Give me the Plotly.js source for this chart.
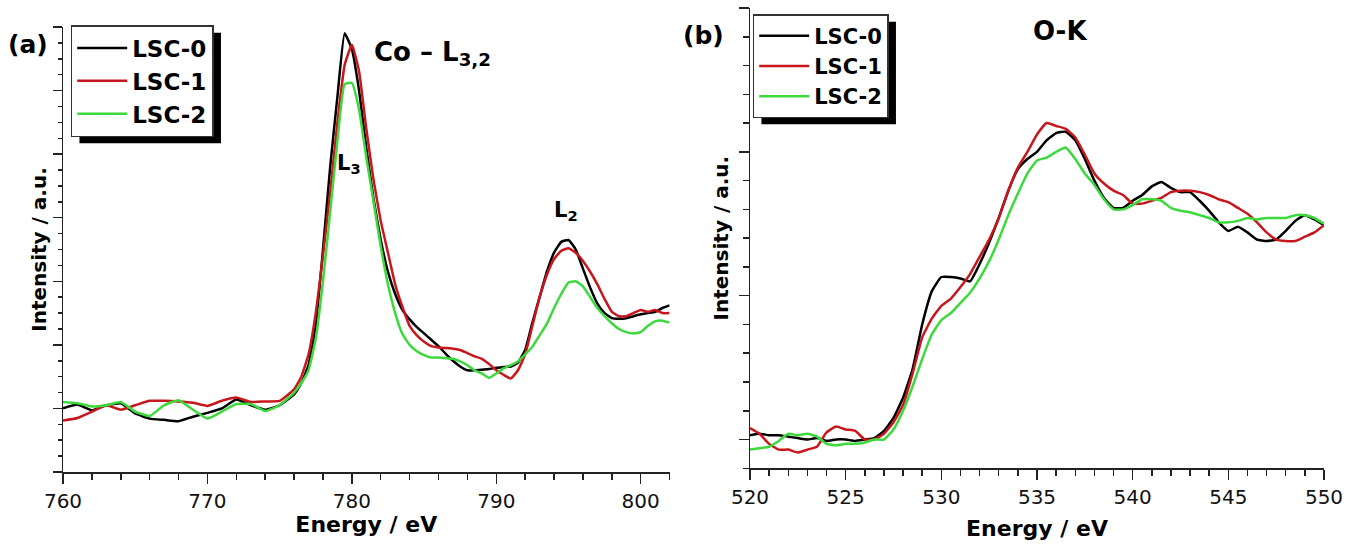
<!DOCTYPE html>
<html><head><meta charset="utf-8">
<script src="https://cdn.plot.ly/plotly-3.0.1.min.js"></script>
<style>html,body{margin:0;padding:0;background:#fff}#chart{width:1356px;height:550px}</style>
</head><body><div id="chart"></div>
<script>
const seriesNames = ['LSC-0', 'LSC-1', 'LSC-2'];
const seriesColors = ['#000000', '#c8161d', '#3cd93c'];

// Panel (a): Co L3,2 edge
const coEnergy = [760,761,762,763,764,765,766,767,768,769,770,771,772,773,774,775,776,
  776.5,777,777.5,778,778.5,779,779.5,780,780.5,781,781.5,782,782.5,783,783.5,784,784.5,785,785.5,786,
  786.5,787,787.5,788,788.5,789,789.5,790,790.5,791,791.5,792,792.5,793,793.5,794,794.5,795,795.5,796,
  796.5,797,797.5,798,798.5,799,799.5,800,800.5,801,801.5,802];
const coLSC0 = [0.0,0.06,-0.03,0.05,0.08,-0.08,-0.16,-0.18,-0.2,-0.13,-0.07,0.0,0.14,0.05,-0.02,0.05,0.22,
  0.4,0.68,1.3,2.5,3.8,4.9,5.9,5.65,5.0,4.1,3.3,2.65,2.15,1.8,1.55,1.4,1.28,1.18,1.08,0.98,
  0.86,0.75,0.66,0.6,0.6,0.61,0.62,0.64,0.65,0.66,0.72,0.92,1.35,1.75,2.15,2.45,2.62,2.65,2.5,2.2,
  1.9,1.65,1.5,1.42,1.41,1.42,1.45,1.48,1.5,1.52,1.58,1.62];
const coLSC1 = [-0.19,-0.15,-0.05,0.05,-0.02,0.05,0.12,0.12,0.11,0.09,0.04,0.12,0.17,0.1,0.11,0.12,0.3,
  0.5,0.85,1.5,2.4,3.4,4.5,5.4,5.72,5.3,4.4,3.6,2.95,2.45,1.95,1.6,1.3,1.15,1.05,0.98,0.96,
  0.95,0.94,0.92,0.87,0.82,0.78,0.7,0.6,0.53,0.47,0.6,0.85,1.3,1.75,2.1,2.35,2.48,2.52,2.45,2.32,
  2.15,1.95,1.72,1.52,1.45,1.45,1.5,1.55,1.52,1.55,1.5,1.5];
const coLSC2 = [0.1,0.08,0.03,0.05,0.1,-0.05,-0.12,0.05,0.13,-0.02,-0.16,-0.05,0.07,0.07,-0.04,0.05,0.25,
  0.4,0.6,1.1,2.0,3.1,4.2,5.1,5.12,4.7,3.95,3.25,2.55,1.95,1.5,1.17,1.0,0.9,0.84,0.8,0.8,
  0.79,0.78,0.74,0.68,0.6,0.55,0.48,0.55,0.63,0.68,0.74,0.85,0.97,1.15,1.33,1.58,1.8,1.98,2.0,1.92,
  1.75,1.58,1.45,1.34,1.25,1.2,1.18,1.2,1.3,1.37,1.38,1.35];

// Panel (b): O K edge
const oEnergy = [520,520.5,521,521.5,522,522.5,523,523.5,524,524.5,525,525.5,526,526.5,527,527.5,528,528.5,529,529.5,
  530,530.5,531,531.5,532,532.5,533,533.5,534,534.5,535,535.5,536,536.5,537,537.5,538,538.5,539,539.5,
  540,540.5,541,541.5,542,542.5,543,543.5,544,544.5,545,545.5,546,546.5,547,547.5,548,548.5,549,549.5,550];
const oLSC0 = [0.03,0.04,0.03,0.03,0.02,0.01,0.0,0.01,-0.01,0.0,0.0,-0.01,0.0,0.01,0.06,0.15,0.29,0.49,0.8,1.03,
  1.13,1.13,1.12,1.1,1.22,1.37,1.54,1.73,1.88,1.95,2.0,2.08,2.13,2.14,2.08,1.95,1.8,1.68,1.61,1.61,
  1.66,1.7,1.76,1.79,1.75,1.72,1.72,1.66,1.59,1.51,1.45,1.48,1.44,1.39,1.38,1.39,1.45,1.52,1.56,1.53,1.49];
const oLSC1 = [0.08,0.04,-0.03,-0.07,-0.07,-0.09,-0.07,-0.05,0.05,0.09,0.07,0.06,0.0,0.0,0.04,0.12,0.24,0.46,0.71,0.84,
  0.93,0.98,1.06,1.15,1.27,1.39,1.54,1.73,1.89,2.0,2.12,2.2,2.18,2.16,2.1,1.98,1.85,1.78,1.73,1.7,
  1.64,1.64,1.66,1.68,1.72,1.73,1.73,1.72,1.7,1.67,1.65,1.61,1.57,1.51,1.44,1.39,1.38,1.38,1.41,1.44,1.49];
const oLSC2 = [-0.07,-0.06,-0.05,-0.01,0.04,0.03,0.04,0.02,-0.03,-0.04,-0.03,-0.03,-0.02,0.0,0.0,0.07,0.2,0.37,0.56,0.73,
  0.83,0.88,0.95,1.02,1.12,1.24,1.39,1.56,1.71,1.85,1.94,1.96,2.0,2.03,1.95,1.85,1.77,1.67,1.6,1.6,
  1.63,1.67,1.67,1.66,1.61,1.59,1.58,1.56,1.54,1.51,1.51,1.52,1.54,1.53,1.54,1.54,1.54,1.56,1.56,1.54,1.5];

const W = 1356, H = 550;
const FONT = 'DejaVu Sans, Verdana, sans-serif';
const coSeries = [coLSC0, coLSC1, coLSC2];
const oSeries = [oLSC0, oLSC1, oLSC2];

const traces = [];
coSeries.forEach((ys, i) => traces.push({
  x: coEnergy, y: ys, type: 'scatter', mode: 'lines', name: seriesNames[i],
  line: {color: seriesColors[i], width: 2.5, shape: 'spline', smoothing: 0.4},
  xaxis: 'x', yaxis: 'y', legend: 'legend'
}));
oSeries.forEach((ys, i) => traces.push({
  x: oEnergy, y: ys, type: 'scatter', mode: 'lines', name: seriesNames[i],
  line: {color: seriesColors[i], width: 2.5, shape: 'spline', smoothing: 0.4},
  xaxis: 'x2', yaxis: 'y2', legend: 'legend2'
}));

const axisCommon = {
  showline: true, linecolor: '#222', linewidth: 1.5, mirror: false,
  showgrid: false, zeroline: false, ticks: 'outside', tickcolor: '#222', tickwidth: 1.5,
  fixedrange: true
};
const legendCommon = {
  xanchor: 'left', yanchor: 'top', bgcolor: '#ffffff', bordercolor: '#333',
  borderwidth: 1.5, itemwidth: 50, tracegroupgap: 0
};
const legendFont = size => ({family: FONT, size: size, color: '#000', weight: 'bold'});
const noteFont = size => ({family: FONT, size: size, color: '#000', weight: 'bold'});

const layout = {
  width: W, height: H,
  margin: {l: 0, r: 0, t: 0, b: 0},
  paper_bgcolor: '#fff', plot_bgcolor: 'rgba(0,0,0,0)',
  font: {family: FONT, color: '#000'},
  showlegend: true,
  xaxis: Object.assign({}, axisCommon, {
    domain: [63 / W, 669.6 / W], range: [760, 802], anchor: 'y',
    tick0: 760, dtick: 10, ticklen: 10,
    minor: {dtick: 2, ticklen: 6, ticks: 'outside', tickcolor: '#222', tickwidth: 1.5},
    tickfont: {family: FONT, size: 20, color: '#111'},
    title: {text: 'Energy / eV', font: {family: FONT, size: 22, weight: 'bold'}, standoff: 5}
  }),
  yaxis: Object.assign({}, axisCommon, {
    domain: [78 / H, 523 / H], range: [-1, 6], anchor: 'x',
    tick0: 0, dtick: 1, ticklen: 9, showticklabels: false,
    minor: {dtick: 0.25, ticklen: 4, ticks: 'outside', tickcolor: '#222', tickwidth: 1.5},
    title: {text: 'Intensity / a.u.', font: {family: FONT, size: 20, weight: 'bold'}, standoff: 0}
  }),
  xaxis2: Object.assign({}, axisCommon, {
    domain: [750 / W, 1324 / W], range: [520, 550], anchor: 'y2',
    tick0: 520, dtick: 5, ticklen: 10,
    minor: {dtick: 1, ticklen: 6, ticks: 'outside', tickcolor: '#222', tickwidth: 1.5},
    tickfont: {family: FONT, size: 20, color: '#111'},
    title: {text: 'Energy / eV', font: {family: FONT, size: 22, weight: 'bold'}, standoff: 13}
  }),
  yaxis2: Object.assign({}, axisCommon, {
    domain: [81.7 / H, 542 / H], range: [-0.2, 3], anchor: 'x2',
    tick0: 0, dtick: 1, ticklen: 10, showticklabels: false,
    minor: {dtick: 0.2, ticklen: 6, ticks: 'outside', tickcolor: '#222', tickwidth: 1.5},
    title: {text: 'Intensity / a.u.', font: {family: FONT, size: 20, weight: 'bold'}, standoff: 4}
  }),
  legend: Object.assign({}, legendCommon, {x: 70.7 / W, y: 1 - 25 / H, font: legendFont(23)}),
  legend2: Object.assign({}, legendCommon, {x: 752.7 / W, y: 1 - 14 / H, font: legendFont(21)}),
  annotations: [
    {text: '(a)', xref: 'paper', yref: 'paper', x: 28 / W, y: 1 - 45 / H,
     xanchor: 'center', yanchor: 'middle', showarrow: false, font: noteFont(25)},
    {text: '(b)', xref: 'paper', yref: 'paper', x: 703 / W, y: 1 - 36 / H,
     xanchor: 'center', yanchor: 'middle', showarrow: false, font: noteFont(25)},
    {text: 'Co – L<sub>3,2</sub>', xref: 'paper', yref: 'paper', x: 372 / W, y: 1 - 54 / H,
     xanchor: 'left', yanchor: 'middle', showarrow: false, font: noteFont(26)},
    {text: 'L<sub>3</sub>', xref: 'x', yref: 'y', x: 779.8, y: 3.84,
     xanchor: 'center', yanchor: 'middle', showarrow: false, font: noteFont(21)},
    {text: 'L<sub>2</sub>', xref: 'x', yref: 'y', x: 794.8, y: 3.1,
     xanchor: 'center', yanchor: 'middle', showarrow: false, font: noteFont(21)},
    {text: 'O-K', xref: 'paper', yref: 'paper', x: 1060 / W, y: 1 - 31 / H,
     xanchor: 'center', yanchor: 'middle', showarrow: false, font: noteFont(26)}
  ]
};

const gd = document.getElementById('chart');
Plotly.newPlot(gd, traces, layout, {staticPlot: true, displayModeBar: false}).then(() => {
  const box = gd.getBoundingClientRect();
  const shapes = [];
  ['legend', 'legend2'].forEach(id => {
    const bg = gd.querySelector('g.' + id + ' rect.bg');
    if (!bg) return;
    const r = bg.getBoundingClientRect();
    const dx = 8, dy = 7;
    shapes.push({
      type: 'rect', xref: 'paper', yref: 'paper', layer: 'above',
      x0: (r.left - box.left + dx) / W, x1: (r.right - box.left + dx) / W,
      y0: 1 - (r.bottom - box.top + dy) / H, y1: 1 - (r.top - box.top + dy) / H,
      fillcolor: '#000', line: {width: 0}
    });
  });
  return Plotly.relayout(gd, {shapes: shapes});
});
</script>
</body></html>
